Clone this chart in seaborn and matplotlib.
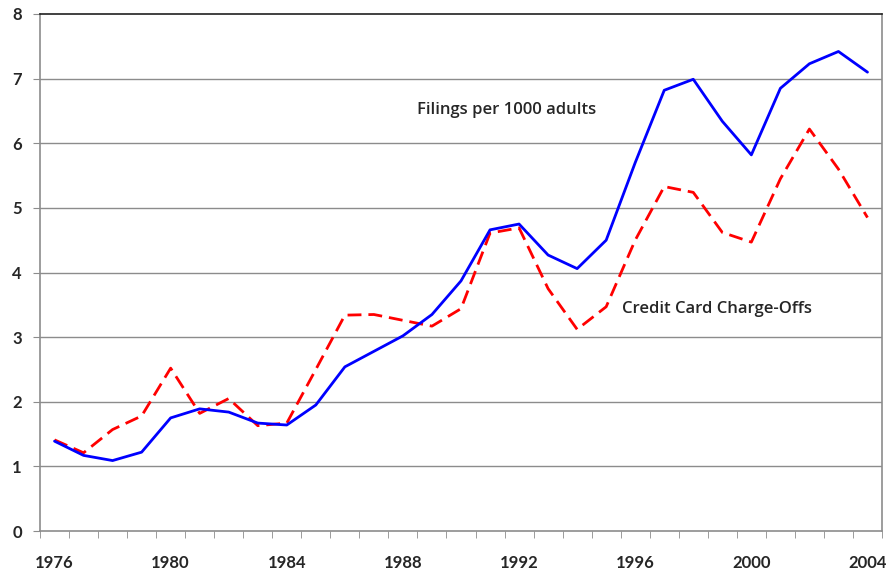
import numpy as np
import pandas as pd
import matplotlib
matplotlib.use("Agg")
import matplotlib.pyplot as plt
import seaborn as sns

# --- Daten ---
years = list(range(1976, 2005))
filings = [1.39, 1.17, 1.09, 1.22, 1.75, 1.89, 1.84, 1.67, 1.64, 1.95,
           2.54, 2.78, 3.02, 3.35, 3.87, 4.66, 4.75, 4.27, 4.06, 4.50,
           5.70, 6.82, 6.99, 6.34, 5.82, 6.85, 7.23, 7.42, 7.10]
chargeoffs = [1.41, 1.21, 1.57, 1.78, 2.52, 1.82, 2.05, 1.63, 1.67, 2.50,
              3.34, 3.35, 3.26, 3.17, 3.44, 4.61, 4.69, 3.75, 3.12, 3.47,
              4.50, 5.33, 5.24, 4.62, 4.47, 5.45, 6.22, 5.60, 4.85]
y_ticks = [0, 1, 2, 3, 4, 5, 6, 7, 8]
x_labels = [1976, 1980, 1984, 1988, 1992, 1996, 2000, 2004]

df = pd.DataFrame({"Jahr": years, "Filings": filings, "ChargeOffs": chargeoffs})

sns.set_style("white")
plt.rcParams["font.family"] = ["Lato", "DejaVu Sans"]

fig = plt.figure(figsize=(8.87, 5.73), dpi=100)
ax = fig.add_axes([40 / 887, 42 / 573, 842 / 887, 517 / 573])

grid_col = "#8c8c8c"
for v in y_ticks[1:-1]:
    ax.axhline(v, color=grid_col, lw=1.0, zorder=0)

sns.lineplot(data=df, x="Jahr", y="Filings", ax=ax, color="#0000ff", lw=2.0, zorder=3)
sns.lineplot(data=df, x="Jahr", y="ChargeOffs", ax=ax, color="#ff0000", lw=2.0,
             dashes=False, zorder=2)
ax.lines[-1].set_dashes([5, 2.5])

ax.set_xlim(years[0] - 0.5, years[-1] + 0.5)
ax.set_ylim(0, 8)
ax.set_xlabel("")
ax.set_ylabel("")

ax.set_xticks(x_labels)
ax.set_xticklabels([str(x) for x in x_labels], fontsize=12, fontweight="bold")
ax.set_xticks(np.arange(years[0] - 0.5, years[-1] + 1), minor=True)
ax.tick_params(axis="x", which="major", length=0, pad=17)
ax.tick_params(axis="x", which="minor", length=5, color=grid_col, direction="out")
ax.set_yticks(y_ticks)
ax.set_yticklabels([str(v) for v in y_ticks], fontsize=12, fontweight="bold")
ax.tick_params(axis="y", length=5, color=grid_col, direction="out", pad=8)
ax.tick_params(bottom=True, left=True, which="both")

for s in ["left", "bottom", "right"]:
    ax.spines[s].set_color(grid_col)
    ax.spines[s].set_linewidth(1.2)
ax.spines["top"].set_color("#202020")
ax.spines["top"].set_linewidth(1.2)

# Beschriftungen der Linien
ax.text(1988.5, 6.52, "Filings per 1000 adults", fontsize=12, fontweight="semibold",
        family=["Open Sans", "DejaVu Sans"], va="center", ha="left")
ax.text(1995.55, 3.44, "Credit Card Charge-Offs", fontsize=12, fontweight="semibold",
        family=["Open Sans", "DejaVu Sans"], va="center", ha="left")

fig.savefig("out.png", dpi=100)
